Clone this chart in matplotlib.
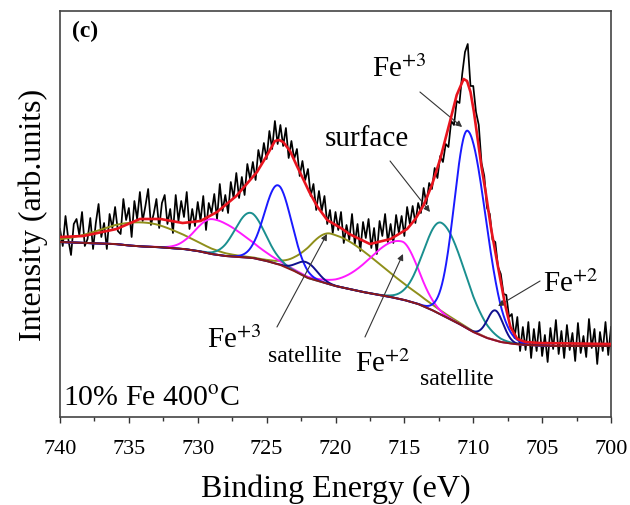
import numpy as np
import matplotlib
matplotlib.use("Agg")
import matplotlib.pyplot as plt

plt.rcParams['font.family'] = ['Liberation Serif', 'DejaVu Serif']
plt.rcParams['mathtext.fontset'] = 'stix'

# ---------------- data ----------------
# measured Fe 2p spectrum, 740.0 -> 700.0 eV in 0.2 eV steps (arb. units)
raw_start, raw_step = 740.0, -0.2
raw_counts = [
    188, 171, 201, 178, 162,  193, 198, 182, 205, 171,
    178, 199, 168, 194, 213,  180, 194, 168, 203, 189,
    210, 186, 183, 218, 197,  209, 180, 216, 198, 225,
    196, 211, 228, 192, 203,  218, 189, 214, 222, 193,
    208, 184, 222, 196, 216,  200, 225, 188, 208, 191,
    215, 196, 221, 187, 214,  204, 223, 198, 233, 206,
    222, 204, 235, 219, 244,  219, 240, 222, 253, 238,
    255, 237, 267, 254, 274,  258, 286, 268, 296, 273,
    292, 271, 289, 259, 276,  258, 268, 241, 256, 237,
    248, 221, 233, 207, 226,  206, 221, 193, 207, 184,
    205, 187, 205, 174, 192,  177, 203, 173, 193, 166,
    195, 179, 198, 169, 189,  163, 196, 181, 203, 175,
    193, 174, 202, 184, 201,  181, 210, 193, 211, 194,
    214, 204, 229, 213, 234,  228, 249, 239, 261, 255,
    273, 270, 296, 292, 316,  314, 343, 365, 373, 331,
    331, 305, 292, 254, 241,  209, 203, 177, 175, 150,
    143, 123, 122, 100, 103,  79, 100, 66, 90, 67,
    95, 59, 88, 66, 95,       61, 82, 55, 89, 68,
    97, 63, 86, 59, 92,       67, 84, 56, 94, 64,
    81, 60, 98, 69, 88,       53, 85, 66, 95, 62,
    90,
]

# Shirley background, 1 eV steps from 740 to 700
bg_energy = list(range(740, 699, -1))
bg_values = [175, 174.5, 174, 173.5, 173, 171.5, 170.5, 170, 169, 168,
             166, 163, 161, 160, 159, 156, 152, 146, 139, 135,
             131, 128, 125, 122.5, 120, 117, 113, 107, 100, 93,
             85, 79, 75, 73, 72, 71.5, 71, 71, 71, 71, 71]

# fitted envelope
env_energy = [740.0, 738.3, 735.9, 734.2, 732.7, 731.1, 729.8, 728.6, 727.2,
              725.7, 725.0, 724.4, 724.1, 723.8, 723.3, 722.8, 721.9, 721.3,
              720.6, 719.5, 719.0, 717.5, 716.0, 714.8, 714.2, 713.6, 713.0,
              712.4, 711.7, 711.2, 710.7, 710.45, 710.2, 709.95, 709.7, 709.4,
              709.1, 708.7, 708.2, 707.7, 707.3, 706.8, 706.2, 705.2, 700.0]
env_values = [180, 181, 188, 198, 198, 194, 196, 205, 221,
              245, 261, 276, 277, 275, 266, 251, 225, 210,
              197, 188, 183, 173, 178, 188, 198, 212, 232,
              258, 295, 322, 338, 336, 325, 305, 280, 250,
              225, 188, 150, 113, 90, 78, 75, 74, 73]

# fitted components: centre (eV), height above background,
# width (sigma, eV) on the high-BE side and on the low-BE side
fe3_center = [710.4, 724.17]          # blue
fe3_height = [198, 79]
fe3_sig_hi = [0.97, 0.98]
fe3_sig_lo = [1.30, 0.98]

surf_center = [712.3, 726.2]          # teal
surf_height = [92, 45]
surf_sig_hi = [1.30, 1.09]
surf_sig_lo = [1.67, 1.09]

fe2_center = [708.4, 722.07]          # navy
fe2_height = [30, 15]
fe2_sig_hi = [0.58, 0.73]
fe2_sig_lo = [0.58, 0.73]

fe2sat_center = [715.2, 728.9]        # magenta
fe2sat_height = [58, 35]
fe2sat_sig_hi = [2.3, 1.23]
fe2sat_sig_lo = [1.2, 2.3]

fe3sat_center = [720.3, 734.0]        # olive
fe3sat_height = [51, 24]
fe3sat_sig_hi = [1.67, 2.9]
fe3sat_sig_lo = [3.5, 2.9]

x_ticks = [740, 735, 730, 725, 720, 715, 710, 705, 700]

# ---------------- figure ----------------
fig = plt.figure(figsize=(6.3, 5.06), dpi=100)
ax = fig.add_axes([60 / 630, 1 - 418 / 506, 551 / 630, 406 / 506])

raw_energy = raw_start + raw_step * np.arange(len(raw_counts))
ax.plot(raw_energy, raw_counts, color='black', lw=1.25, zorder=1)

grid = np.linspace(740, 700, 1201)
bg_grid = np.interp(grid, bg_energy[::-1], bg_values[::-1])


def component(centers, heights, sig_hi, sig_lo):
    y = np.zeros_like(grid)
    for c, h, shi, slo in zip(centers, heights, sig_hi, sig_lo):
        s = np.where(grid > c, shi, slo)
        y += h * np.exp(-0.5 * ((grid - c) / s) ** 2)
    return bg_grid + y


ax.plot(grid, component(fe3sat_center, fe3sat_height, fe3sat_sig_hi, fe3sat_sig_lo),
        color='#8f8f1a', lw=1.4, zorder=3)
ax.plot(grid, component(fe2sat_center, fe2sat_height, fe2sat_sig_hi, fe2sat_sig_lo),
        color='#ff1aff', lw=1.4, zorder=3)
ax.plot(grid, component(surf_center, surf_height, surf_sig_hi, surf_sig_lo),
        color='#1a8f8f', lw=1.4, zorder=3)
ax.plot(grid, component(fe3_center, fe3_height, fe3_sig_hi, fe3_sig_lo),
        color='#1a1aff', lw=1.4, zorder=3)
ax.plot(grid, component(fe2_center, fe2_height, fe2_sig_hi, fe2_sig_lo),
        color='#10108f', lw=1.4, zorder=3)
ax.plot(bg_energy, bg_values, color='#8b1a1a', lw=1.4, zorder=3.5)
ax.plot(env_energy, env_values, color='#e8141e', lw=1.9, zorder=5)

ax.set_xlim(740, 700)
ax.set_ylim(0, 406)
ax.set_xticks(x_ticks)
ax.set_xticklabels([str(t) for t in x_ticks], fontsize=16)
ax.set_xticks(np.arange(737.5, 700, -5), minor=True)
ax.set_yticks([])
ax.tick_params(axis='x', which='major', direction='out', length=4.5, width=1.0,
               pad=11, color='#333333', top=False)
ax.tick_params(axis='x', which='minor', direction='out', length=2.6, width=1.0,
               color='#333333', top=False)
for sp in ax.spines.values():
    sp.set_color('#444444')
    sp.set_linewidth(1.2)

ax.set_xlabel('Binding Energy (eV)', fontsize=23)
ax.xaxis.set_label_coords(0.5, -0.14)
ax.set_ylabel('Intensity (arb.units)', fontsize=23)
ax.yaxis.set_label_coords(-0.022, 0.5)

arrow = dict(arrowstyle='-|>', color='#333333', lw=0.8, mutation_scale=9,
             shrinkA=0, shrinkB=0)

ax.text(739.1, 381, '(c)', fontsize=17, fontweight='bold', ha='left', va='baseline')
ax.text(739.8, 12, '10% Fe 400$^{\\mathrm{o}}$C', fontsize=21.5, ha='left', va='baseline')

ax.text(717.35, 341, 'Fe$^{+3}$', fontsize=21, ha='left', va='baseline')
ax.annotate('', xy=(710.81, 290), xytext=(713.87, 325), arrowprops=arrow)

ax.text(720.76, 272, 'surface', fontsize=21, ha='left', va='baseline')
ax.annotate('', xy=(713.14, 205), xytext=(716.04, 256), arrowprops=arrow)

ax.text(704.95, 126, 'Fe$^{+2}$', fontsize=21, ha='left', va='baseline')
ax.annotate('', xy=(708.2, 111), xytext=(705.15, 136), arrowprops=arrow)

ax.text(729.35, 70, 'Fe$^{+3}$', fontsize=21, ha='left', va='baseline')
ax.text(724.9, 56, 'satellite', fontsize=17, ha='left', va='baseline')
ax.annotate('', xy=(720.62, 183), xytext=(724.25, 90), arrowprops=arrow)

ax.text(718.6, 46, 'Fe$^{+2}$', fontsize=21, ha='left', va='baseline')
ax.annotate('', xy=(715.1, 163), xytext=(717.86, 80), arrowprops=arrow)
ax.text(713.87, 33, 'satellite', fontsize=17, ha='left', va='baseline')

fig.savefig('out.png', dpi=100)
